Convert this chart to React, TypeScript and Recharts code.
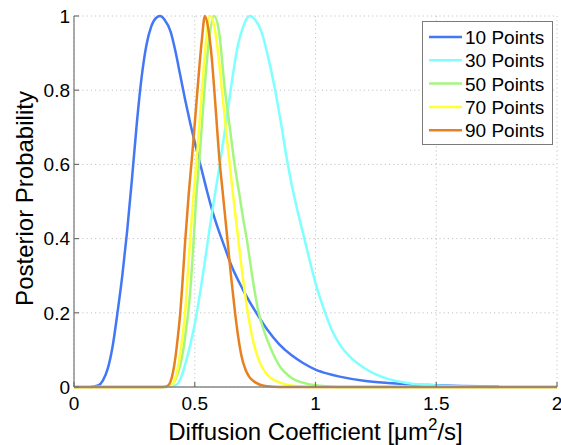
import React from 'react';
import { LineChart, Line, XAxis, YAxis, CartesianGrid, Legend, Label } from 'recharts';

const FONT = '"Liberation Sans", Arial, Helvetica, sans-serif';

const xTicks = [0, 0.5, 1, 1.5, 2];
const xTickLabels = ['0', '0.5', '1', '1.5', '2'];
const yTicks = [0, 0.2, 0.4, 0.6, 0.8, 1];
const yTickLabels = ['0', '0.2', '0.4', '0.6', '0.8', '1'];

const seriesNames = ['10 Points', '30 Points', '50 Points', '70 Points', '90 Points'];
const seriesColors = ['#4277F5', '#80FFFF', '#A4F77E', '#FFFF33', '#E8801F'];

// 10 Points
const blueX = [0.07, 0.1, 0.12, 0.14, 0.16, 0.18, 0.2, 0.22, 0.24, 0.26, 0.28, 0.3, 0.32, 0.34, 0.356, 0.375, 0.4, 0.42, 0.44, 0.46, 0.48, 0.5, 0.525, 0.55, 0.575, 0.6, 0.625, 0.65, 0.7, 0.75, 0.8, 0.85, 0.9, 0.95, 1.0, 1.05, 1.1, 1.2, 1.3, 1.4, 1.5, 1.6, 1.76];
const blueY = [0, 0.004, 0.018, 0.05, 0.11, 0.2, 0.3, 0.42, 0.56, 0.71, 0.835, 0.922, 0.972, 0.995, 1, 0.99, 0.958, 0.905, 0.84, 0.775, 0.715, 0.66, 0.595, 0.53, 0.47, 0.42, 0.375, 0.33, 0.262, 0.205, 0.155, 0.115, 0.086, 0.064, 0.047, 0.036, 0.028, 0.017, 0.011, 0.007, 0.005, 0.003, 0.001];

// 30 Points
const cyanX = [0.38, 0.42, 0.44, 0.46, 0.48, 0.5, 0.52, 0.54, 0.56, 0.58, 0.6, 0.62, 0.64, 0.66, 0.68, 0.7, 0.715, 0.729, 0.75, 0.78, 0.8, 0.83, 0.86, 0.88, 0.9, 0.92, 0.95, 0.98, 1.0, 1.04, 1.07, 1.1, 1.15, 1.2, 1.25, 1.3, 1.35, 1.4, 1.5, 1.6, 1.76];
const cyanY = [0, 0.004, 0.02, 0.06, 0.11, 0.17, 0.245, 0.33, 0.42, 0.505, 0.585, 0.67, 0.76, 0.85, 0.925, 0.97, 0.993, 1, 0.99, 0.95, 0.9, 0.81, 0.7, 0.62, 0.55, 0.49, 0.41, 0.33, 0.28, 0.2, 0.15, 0.115, 0.077, 0.052, 0.034, 0.022, 0.014, 0.009, 0.004, 0.0015, 0];

// 50 Points
const greenX = [0, 0.37, 0.4, 0.42, 0.44, 0.455, 0.465, 0.473, 0.485, 0.495, 0.505, 0.52, 0.54, 0.56, 0.58, 0.6, 0.625, 0.645, 0.665, 0.687, 0.7, 0.715, 0.74, 0.763, 0.79, 0.812, 0.853, 0.9, 0.963, 1.0, 1.05, 1.1, 2];
const greenY = [0, 0, 0.003, 0.02, 0.06, 0.11, 0.16, 0.2, 0.29, 0.39, 0.5, 0.62, 0.8, 0.94, 1, 0.96, 0.8, 0.7, 0.6, 0.51, 0.455, 0.4, 0.29, 0.205, 0.145, 0.108, 0.055, 0.025, 0.009, 0.005, 0.002, 0, 0];

// 70 Points
const yellowX = [0, 0.37, 0.4, 0.42, 0.435, 0.45, 0.46, 0.47, 0.48, 0.494, 0.51, 0.53, 0.545, 0.563, 0.58, 0.595, 0.611, 0.627, 0.643, 0.66, 0.67, 0.687, 0.7, 0.715, 0.729, 0.745, 0.77, 0.8, 0.853, 0.9, 0.95, 1.0, 2];
const yellowY = [0, 0, 0.002, 0.025, 0.07, 0.14, 0.2, 0.29, 0.39, 0.51, 0.63, 0.8, 0.92, 1, 0.975, 0.91, 0.81, 0.71, 0.61, 0.51, 0.455, 0.36, 0.29, 0.22, 0.165, 0.115, 0.065, 0.033, 0.012, 0.004, 0.001, 0, 0];

// 90 Points
const orangeX = [0, 0.37, 0.39, 0.4, 0.41, 0.42, 0.43, 0.44, 0.45, 0.46, 0.475, 0.49, 0.505, 0.52, 0.53, 0.542, 0.555, 0.57, 0.581, 0.59, 0.6, 0.615, 0.635, 0.65, 0.667, 0.68, 0.694, 0.71, 0.725, 0.743, 0.77, 0.8, 0.85, 2];
const orangeY = [0, 0, 0.004, 0.015, 0.04, 0.08, 0.135, 0.2, 0.29, 0.39, 0.52, 0.63, 0.75, 0.87, 0.94, 1, 0.97, 0.89, 0.8, 0.72, 0.63, 0.53, 0.4, 0.3, 0.2, 0.135, 0.082, 0.047, 0.028, 0.016, 0.006, 0.002, 0, 0];

const zip = (xs: number[], ys: number[]) => xs.map((v, i) => ({ v, p: ys[i] }));
const seriesData = [
  zip(blueX, blueY),
  zip(cyanX, cyanY),
  zip(greenX, greenY),
  zip(yellowX, yellowY),
  zip(orangeX, orangeY),
];

const AXIS_COLOR = '#888888';
const TICK_COLOR = '#6e6e6e';

const BottomTick = (props: any) => {
  const { x, y, payload } = props;
  const i = xTicks.indexOf(payload.value);
  return (
    <g>
      <line x1={x} x2={x} y1={y} y2={y - 5} stroke={TICK_COLOR} strokeWidth={1.2} />
      <text x={x} y={y + 23} textAnchor="middle" fontSize={19} fontFamily={FONT} fill="#000">
        {xTickLabels[i]}
      </text>
    </g>
  );
};

const TopTick = (props: any) => {
  const { x, y } = props;
  return <line x1={x} x2={x} y1={y} y2={y + 5} stroke={TICK_COLOR} strokeWidth={1.2} />;
};

const LeftTick = (props: any) => {
  const { x, y, payload } = props;
  const i = yTicks.indexOf(payload.value);
  return (
    <g>
      <line x1={x} x2={x + 5} y1={y} y2={y} stroke={TICK_COLOR} strokeWidth={1.2} />
      <text x={x - 4} y={y} dy="0.36em" textAnchor="end" fontSize={19} fontFamily={FONT} fill="#000">
        {yTickLabels[i]}
      </text>
    </g>
  );
};

const RightTick = (props: any) => {
  const { x, y } = props;
  return <line x1={x} x2={x - 5} y1={y} y2={y} stroke={TICK_COLOR} strokeWidth={1.2} />;
};

const XTitle = (props: any) => {
  const vb = props.viewBox;
  return (
    <text x={vb.x + vb.width / 2} y={vb.y + 53} textAnchor="middle" fontSize={24} fontFamily={FONT} fill="#000">
      Diffusion Coefficient [μm
      <tspan dy={-10} fontSize={17}>2</tspan>
      <tspan dy={10}>/s]</tspan>
    </text>
  );
};

const YTitle = (props: any) => {
  const vb = props.viewBox;
  const cx = 33;
  const cy = vb.y + vb.height / 2 - 3;
  return (
    <text x={cx} y={cy} transform={`rotate(-90, ${cx}, ${cy})`} textAnchor="middle" fontSize={24} fontFamily={FONT} fill="#000">
      Posterior Probability
    </text>
  );
};

const LegendBox = () => (
  <svg width={132} height={125} style={{ display: 'block' }}>
    <rect x={0.5} y={0.5} width={130} height={123} fill="#ffffff" stroke="#7a7a7a" strokeWidth={1} />
    {seriesNames.map((n, i) => {
      const cy = 16 + i * 23.3;
      return (
        <g key={n}>
          <line x1={7} x2={40} y1={cy} y2={cy} stroke={seriesColors[i]} strokeWidth={2.5} />
          <text x={43} y={cy + 7} fontSize={19} fontFamily={FONT} fill="#000">
            {n}
          </text>
        </g>
      );
    })}
  </svg>
);

export default function App() {
  return (
    <div style={{ position: 'absolute', left: 0, top: 0, width: 561, height: 445, background: '#fff' }}>
      <LineChart width={561} height={445} margin={{ top: 16, right: 4, bottom: 0, left: 0 }}>
        <CartesianGrid stroke="#c4c4c4" strokeDasharray="1.2 3" strokeWidth={1} />
        <XAxis
          dataKey="v"
          type="number"
          domain={[0, 2]}
          ticks={xTicks}
          height={58}
          tickSize={0}
          tickMargin={0}
          tickLine={false}
          axisLine={{ stroke: AXIS_COLOR, strokeWidth: 1.4 }}
          tick={<BottomTick />}
          interval={0}
        >
          <Label content={<XTitle />} />
        </XAxis>
        <XAxis
          xAxisId="top"
          orientation="top"
          dataKey="v"
          type="number"
          domain={[0, 2]}
          ticks={xTicks}
          height={0}
          tickSize={0}
          tickMargin={0}
          tickLine={false}
          axisLine={{ stroke: AXIS_COLOR, strokeWidth: 1.4 }}
          tick={<TopTick />}
          interval={0}
        />
        <YAxis
          type="number"
          domain={[0, 1]}
          ticks={yTicks}
          width={74}
          tickSize={0}
          tickMargin={0}
          tickLine={false}
          axisLine={{ stroke: AXIS_COLOR, strokeWidth: 1.4 }}
          tick={<LeftTick />}
          interval={0}
        >
          <Label content={<YTitle />} />
        </YAxis>
        <YAxis
          yAxisId="right"
          orientation="right"
          type="number"
          domain={[0, 1]}
          ticks={yTicks}
          width={0}
          tickSize={0}
          tickMargin={0}
          tickLine={false}
          axisLine={{ stroke: AXIS_COLOR, strokeWidth: 1.4 }}
          tick={<RightTick />}
          interval={0}
        />
        <Legend
          layout="vertical"
          align="center"
          verticalAlign="middle"
          wrapperStyle={{ left: 422, top: 21, width: 132, height: 125 }}
          content={() => <LegendBox />}
        />
        {seriesData.map((d, i) => (
          <Line
            key={seriesNames[i]}
            name={seriesNames[i]}
            data={d}
            dataKey="p"
            type="monotone"
            stroke={seriesColors[i]}
            strokeWidth={2.5}
            dot={false}
            activeDot={false}
            isAnimationActive={false}
          />
        ))}
      </LineChart>
    </div>
  );
}
